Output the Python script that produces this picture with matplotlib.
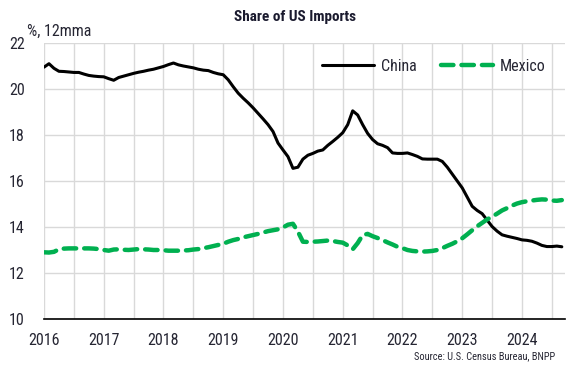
import numpy as np
import matplotlib
matplotlib.use("Agg")
import matplotlib.pyplot as plt
from matplotlib.ticker import MultipleLocator

plt.rcParams['font.family'] = ['Roboto Condensed', 'Roboto', 'DejaVu Sans']

# monthly 12mma share of US imports, Jan 2016 - Sep 2024 (%)
start_year = 2016
china = [20.95, 21.10, 20.90, 20.77, 20.76, 20.74, 20.72, 20.72, 20.65, 20.59, 20.56, 20.54,
         20.53, 20.45, 20.38, 20.50, 20.56, 20.62, 20.68, 20.73, 20.77, 20.82, 20.86, 20.92,
         20.98, 21.06, 21.13, 21.05, 21.00, 20.96, 20.92, 20.86, 20.82, 20.80, 20.72, 20.66,
         20.62, 20.40, 20.10, 19.82, 19.60, 19.40, 19.18, 18.94, 18.70, 18.45, 18.15, 17.65,
         17.35, 17.06, 16.55, 16.60, 16.95, 17.12, 17.20, 17.30, 17.35, 17.55, 17.72, 17.90,
         18.10, 18.45, 19.05, 18.87, 18.45, 18.07, 17.80, 17.62, 17.55, 17.45, 17.22, 17.20,
         17.20, 17.22, 17.15, 17.07, 16.96, 16.95, 16.95, 16.95, 16.85, 16.60, 16.30, 16.00,
         15.70, 15.30, 14.90, 14.72, 14.58, 14.30, 14.02, 13.82, 13.66, 13.60, 13.55, 13.50,
         13.44, 13.42, 13.38, 13.30, 13.20, 13.15, 13.15, 13.17, 13.14]
mexico = [12.90, 12.89, 12.92, 13.03, 13.06, 13.07, 13.07, 13.07, 13.07, 13.07, 13.06, 13.04,
          13.00, 12.97, 13.02, 13.03, 13.01, 13.00, 13.02, 13.04, 13.03, 13.02, 13.00, 13.00,
          12.99, 12.97, 12.97, 12.97, 12.98, 12.99, 13.02, 13.04, 13.08, 13.12, 13.17, 13.22,
          13.27, 13.36, 13.43, 13.48, 13.55, 13.60, 13.65, 13.70, 13.76, 13.82, 13.86, 13.90,
          13.98, 14.10, 14.14, 13.80, 13.36, 13.35, 13.36, 13.37, 13.39, 13.41, 13.39, 13.35,
          13.32, 13.20, 13.03, 13.30, 13.65, 13.70, 13.60, 13.52, 13.43, 13.33, 13.24, 13.14,
          13.08, 13.00, 12.96, 12.94, 12.93, 12.94, 12.96, 13.00, 13.08, 13.18, 13.27, 13.38,
          13.51, 13.68, 13.86, 14.03, 14.18, 14.33, 14.45, 14.58, 14.72, 14.82, 14.93, 15.02,
          15.08, 15.12, 15.15, 15.18, 15.20, 15.19, 15.15, 15.14, 15.17]
years = list(range(2016, 2025))
yticks = [10, 12, 14, 16, 18, 20, 22]

t = start_year + np.arange(len(china)) / 12

txt = '#262633'
fig = plt.figure(figsize=(5.72, 3.66), dpi=100)
ax = fig.add_axes([44 / 572, 1 - 319 / 366, 521 / 572, 276 / 366])

ax.plot(t, china, color='black', lw=2.2, label='China', solid_capstyle='round', zorder=3)
ax.plot(t, mexico, color='#00B050', lw=3.2, label='Mexico', linestyle=(0, (2.8, 1.8)),
        dash_capstyle='round', zorder=3)

ax.set_xlim(2016, 2024.72)
ax.set_ylim(10, 22)
ax.set_xticks(years)
ax.set_xticklabels([str(y) for y in years])
ax.xaxis.set_minor_locator(MultipleLocator(0.5))
ax.set_yticks(yticks)
ax.grid(True, which='both', color='#d9d9d9', lw=1)
ax.set_axisbelow(True)
ax.tick_params(which='both', length=0, labelsize=11.5, colors=txt)
ax.tick_params(axis='y', pad=14)
ax.tick_params(axis='x', pad=10)
for s in ['top', 'right', 'left']:
    ax.spines[s].set_visible(False)
ax.spines['bottom'].set_color('black')
ax.spines['bottom'].set_linewidth(1.2)

leg = ax.legend(loc='upper right', bbox_to_anchor=(0.99, 0.995), ncol=2, frameon=False,
                fontsize=11.5, handlelength=3.3, columnspacing=1.5, handletextpad=0.4)
for tx in leg.get_texts():
    tx.set_color(txt)

fig.text(295 / 572, 1 - 17 / 366, 'Share of US Imports', ha='center', va='center',
         fontsize=11, fontweight='bold', color='#1a1a2e')
fig.text(27 / 572, 1 - 31 / 366, '%, 12mma', ha='left', va='center', fontsize=11.5, color=txt)
fig.text(555 / 572, 1 - 356 / 366, 'Source: U.S. Census Bureau, BNPP', ha='right', va='center',
         fontsize=7.5, color=txt)

fig.savefig('out.png', dpi=100)
